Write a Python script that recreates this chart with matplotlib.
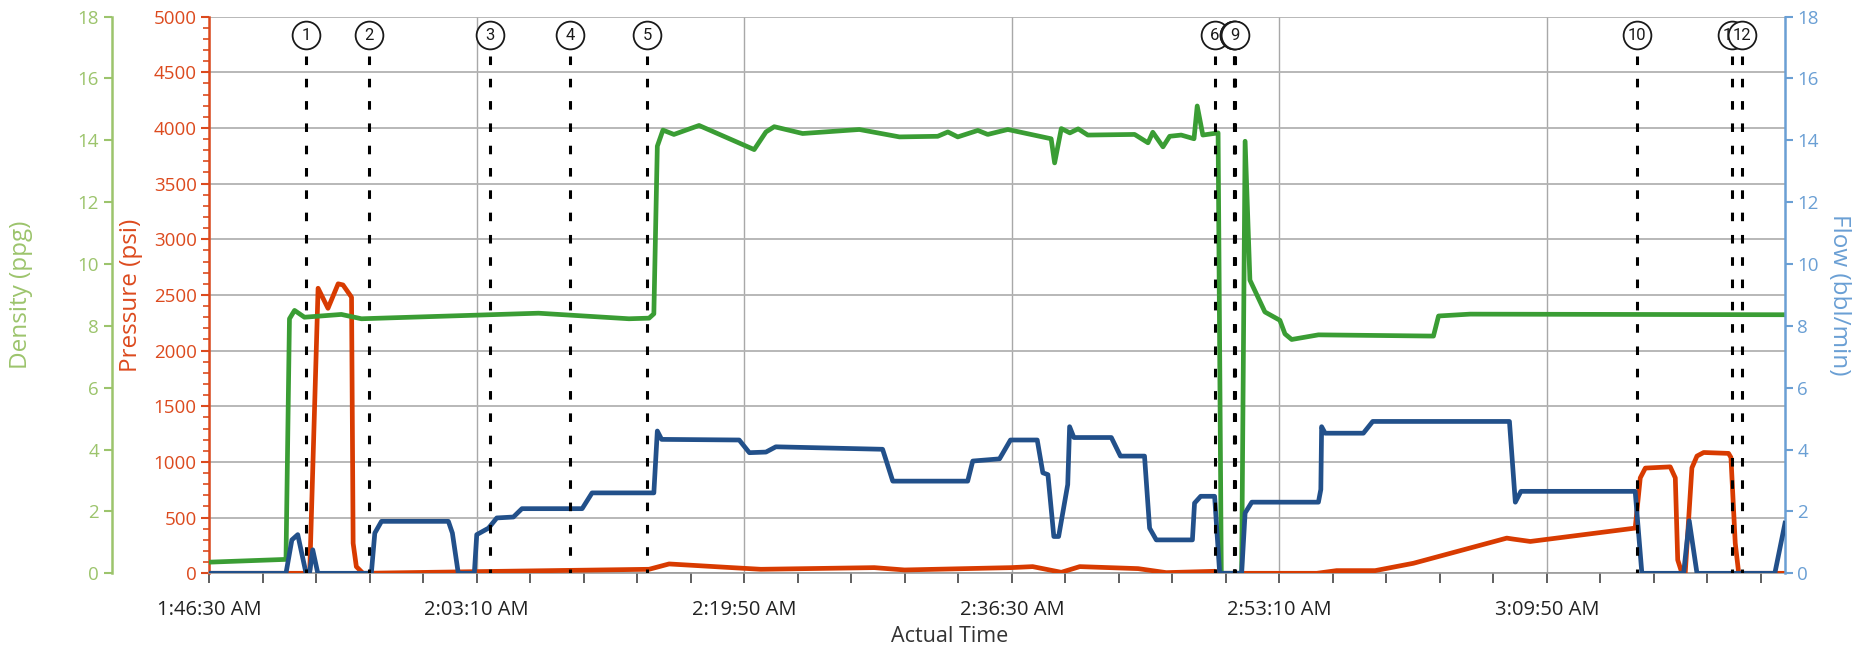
import matplotlib
matplotlib.use('Agg')
import matplotlib.pyplot as plt
import matplotlib.ticker as mticker
from matplotlib import font_manager

# time in seconds after 1:46:30 AM
t_max = 5890
time_ticks = [0, 1000, 2000, 3000, 4000, 5000]
time_labels = ['1:46:30 AM', '2:03:10 AM', '2:19:50 AM', '2:36:30 AM', '2:53:10 AM', '3:09:50 AM']

# density (ppg)
density_t = [0, 287, 300, 319, 356, 494, 569, 1231, 1569, 1644, 1662, 1675, 1696, 1737, 1831,
             2037, 2081, 2112, 2218, 2430, 2580, 2723, 2761, 2798, 2873, 2910, 2985, 3147, 3160,
             3185, 3217, 3248, 3284, 3459, 3509, 3527, 3565, 3590, 3633, 3681, 3693, 3714, 3771,
             3783, 3859, 3872, 3890, 3946, 4002, 4021, 4046, 4146, 4576, 4595, 4713, 5890]
density_v = [0.36, 0.45, 8.23, 8.50, 8.28, 8.37, 8.23, 8.41, 8.23, 8.25, 8.39, 13.81, 14.33, 14.19,
             14.48, 13.70, 14.27, 14.44, 14.22, 14.35, 14.11, 14.13, 14.27, 14.11, 14.32, 14.19,
             14.35, 14.05, 13.27, 14.38, 14.24, 14.37, 14.17, 14.19, 13.92, 14.26, 13.79, 14.13,
             14.17, 14.05, 15.11, 14.17, 14.24, 0, 0, 13.97, 9.48, 8.45, 8.18, 7.74, 7.56, 7.71,
             7.67, 8.32, 8.38, 8.36]

# pressure (psi)
pressure_t = [0, 365, 376, 407, 444, 482, 500, 532, 538, 550, 575, 1000, 1644, 1719, 1931, 2062,
              2486, 2599, 2997, 3078, 3185, 3254, 3472, 3577, 3758, 3783, 4140, 4214, 4358, 4501,
              4850, 4875, 4938, 5330, 5349, 5368, 5461, 5480, 5489, 5505, 5517, 5542, 5561, 5586,
              5679, 5688, 5704, 5717, 5890]
pressure_v = [0, 0, 30, 2560, 2380, 2600, 2590, 2480, 270, 60, 0, 15, 36, 84, 54, 36, 51, 30, 51,
              60, 9, 60, 42, 6, 18, 0, 0, 24, 24, 90, 316, 307, 286, 406, 857, 945, 956, 857, 120,
              0, 0, 947, 1053, 1085, 1077, 1040, 271, 0, 0]

# flow (bbl/min)
flow_t = [0, 287, 309, 331, 362, 375, 387, 406, 606, 619, 644, 894, 909, 931, 991, 1000, 1044,
          1075, 1137, 1169, 1394, 1431, 1662, 1675, 1691, 1981, 2019, 2081, 2118, 2517, 2555,
          2835, 2854, 2954, 2995, 3095, 3116, 3135, 3157, 3175, 3209, 3216, 3232, 3372, 3406,
          3496, 3515, 3540, 3675, 3683, 3706, 3758, 3777, 3859, 3872, 3897, 4146, 4155, 4158,
          4171, 4314, 4349, 4860, 4882, 4903, 5330, 5355, 5511, 5532, 5561, 5852, 5890]
flow_v = [0, 0, 1.08, 1.25, 0, 0, 0.76, 0, 0, 1.30, 1.68, 1.68, 1.30, 0, 0, 1.25, 1.46, 1.79,
          1.82, 2.09, 2.09, 2.60, 2.60, 4.60, 4.33, 4.31, 3.90, 3.92, 4.09, 4.01, 2.98, 2.98,
          3.63, 3.70, 4.31, 4.31, 3.25, 3.19, 1.19, 1.19, 2.87, 4.74, 4.39, 4.39, 3.79, 3.79,
          1.46, 1.08, 1.08, 2.27, 2.49, 2.49, 0, 0, 1.95, 2.30, 2.30, 2.71, 4.74, 4.53, 4.53,
          4.91, 4.91, 2.30, 2.65, 2.65, 0, 0, 1.70, 0, 0, 1.62]

# event markers
event_labels = ['1', '2', '3', '4', '5', '6', '7', '8', '9', '10', '11', '12']
event_t = [363, 596, 1050, 1350, 1637, 3758, 3829, 3831, 3833, 5335, 5691, 5728]

GREEN_AX = '#9cc46c'
GREEN = '#3a9d34'
RED_AX = '#dc4a1e'
RED = '#d83b01'
BLUE_AX = '#6a9fd4'
BLUE = '#22508a'

installed = {f.name for f in font_manager.fontManager.ttflist}
narrow = 'Liberation Sans Narrow' if 'Liberation Sans Narrow' in installed else 'Open Sans'
narrow_size = 17 if narrow == 'Liberation Sans Narrow' else 14.5
plt.rcParams['font.family'] = ['Open Sans', 'DejaVu Sans']

W, H = 1862, 652
fig = plt.figure(figsize=(W / 100, H / 100), dpi=100)
x0, x1, y_top, y_bot = 209.2, 1785, 16.6, 573.3
rect = [x0 / W, 1 - y_bot / H, (x1 - x0) / W, (y_bot - y_top) / H]

# pressure axis (main)
ax = fig.add_axes(rect)
ax.set_xlim(0, t_max)
ax.set_ylim(0, 5000)
ax.yaxis.set_major_locator(mticker.MultipleLocator(500))
ax.yaxis.set_minor_locator(mticker.MultipleLocator(100))
ax.xaxis.set_major_locator(mticker.FixedLocator(time_ticks))
ax.xaxis.set_minor_locator(mticker.MultipleLocator(200))
ax.set_xticklabels(time_labels, family=narrow, fontsize=narrow_size, color='#222222')
ax.tick_params(axis='x', which='major', length=7, width=1.2, color='#444444', pad=12)
ax.tick_params(axis='x', which='minor', length=7, width=1.2, color='#444444')
ax.tick_params(axis='y', which='major', length=6, width=1.5, color=RED_AX, labelcolor=RED_AX,
               labelsize=13.5, pad=3)
ax.tick_params(axis='y', which='minor', length=4.5, width=1.2, color=RED_AX)
ax.grid(axis='y', which='major', color='#b2b2b2', lw=1.3)
ax.grid(axis='x', which='major', color='#a8a8a8', lw=1.0)
ax.set_axisbelow(True)
for s in ['top', 'right']:
    ax.spines[s].set_visible(False)
ax.spines['left'].set_color(RED_AX)
ax.spines['left'].set_linewidth(1.8)
ax.spines['bottom'].set_color('#9a9a9a')
ax.spines['bottom'].set_linewidth(1.2)

# density axis (left, offset)
ax_d = ax.twinx()
ax_d.set_ylim(0, 18)
ax_d.yaxis.set_major_locator(mticker.MultipleLocator(2))
ax_d.yaxis.tick_left()
ax_d.spines['left'].set_position(('outward', (x0 - 111.6) * 0.72))
ax_d.spines['left'].set_visible(True)
ax_d.spines['left'].set_color(GREEN_AX)
ax_d.spines['left'].set_linewidth(1.8)
for s in ['top', 'right', 'bottom']:
    ax_d.spines[s].set_visible(False)
ax_d.tick_params(axis='y', length=6, width=1.5, color=GREEN_AX, labelcolor=GREEN_AX,
                 labelsize=13.5, pad=3)

# flow axis (right)
ax_f = ax.twinx()
ax_f.set_ylim(0, 18)
ax_f.yaxis.set_major_locator(mticker.MultipleLocator(2))
for s in ['top', 'left', 'bottom']:
    ax_f.spines[s].set_visible(False)
ax_f.spines['right'].set_color(BLUE_AX)
ax_f.spines['right'].set_linewidth(1.8)
ax_f.tick_params(axis='y', length=6, width=1.5, color=BLUE_AX, labelcolor=BLUE_AX,
                 labelsize=13.5, pad=3)

ax_f.plot(flow_t, flow_v, color=BLUE, lw=3.4, zorder=3)
ax.plot(pressure_t, pressure_v, color=RED, lw=3.4, zorder=3)
ax_d.plot(density_t, density_v, color=GREEN, lw=3.4, zorder=3)

# event marker overlay
ax_m = fig.add_axes(rect, zorder=10)
ax_m.set_xlim(0, t_max)
ax_m.set_ylim(0, 1)
ax_m.axis('off')
circ_y = (y_bot - 35) / (y_bot - y_top)
line_top = (y_bot - 56) / (y_bot - y_top)
for i, (lab, t) in enumerate(zip(event_labels, event_t)):
    ax_m.plot([t, t], [line_top, 0], color='black', lw=2.2, ls=(0, (2.8, 4.5)),
              zorder=5)
    ax_m.plot([t], [circ_y], 'o', ms=20, mfc='white', mec='#1a1a1a', mew=1.3,
              clip_on=False, zorder=10 + 2 * i)
    ax_m.text(t, circ_y, lab, ha='center', va='center', fontsize=12, color='#1a1a1a',
              family=['Roboto', 'DejaVu Sans'], zorder=11 + 2 * i, clip_on=False)

# axis titles
yc = 1 - (y_top + y_bot) / 2 / H
fig.text(21 / W, yc, 'Density (ppg)', rotation=90, ha='center', va='center',
         color=GREEN_AX, fontsize=17.5)
fig.text(131 / W, yc, 'Pressure (psi)', rotation=90, ha='center', va='center',
         color=RED_AX, fontsize=17.5)
fig.text(1839 / W, yc, 'Flow (bbl/min)', rotation=-90, ha='center', va='center',
         color=BLUE_AX, fontsize=17.5)
fig.text(950 / W, 1 - 636 / H, 'Actual Time', ha='center', va='center',
         color='#333333', family=narrow, fontsize=narrow_size + 1)

fig.savefig('out.png', dpi=100)
